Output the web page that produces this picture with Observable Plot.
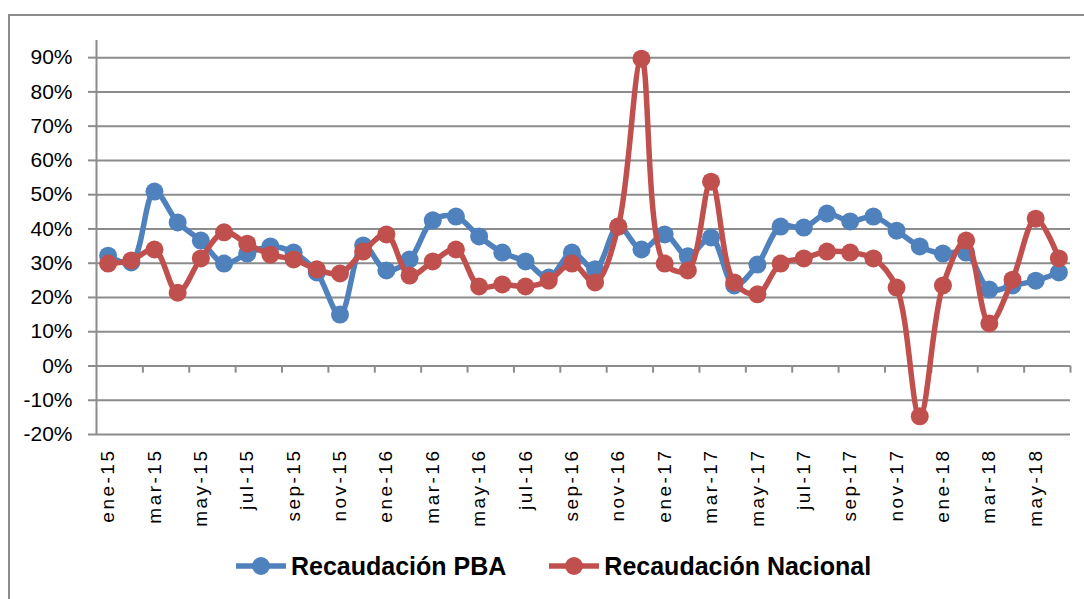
<!DOCTYPE html>
<html>
<head>
<meta charset="utf-8">
<script src="https://cdn.jsdelivr.net/npm/d3@7"></script>
<script src="https://cdn.jsdelivr.net/npm/@observablehq/plot@0.6"></script>
<style>
  html, body { margin: 0; padding: 0; background: white; }
  #wrap { position: relative; width: 1084px; height: 599px; overflow: hidden; font-family: "Liberation Sans", Arial, sans-serif; }
  #border { position: absolute; left: 8px; top: 14px; width: 1200px; height: 700px; border-top: 2px solid #8c8c8c; border-left: 2px solid #8c8c8c; pointer-events: none; }
  #legend { position: absolute; left: 0; top: 548px; height: 36px; display: flex; align-items: center; padding-left: 236px; font-weight: bold; font-size: 25px; color: #000; }
  .item { display: flex; align-items: center; }
  .item svg { margin-right: 5px; }
</style>
</head>
<body>
<div id="wrap">
  <div id="chart"></div>
  <div id="border"></div>
  <div id="legend"></div>
</div>
<script>
const months = [
  "ene-15","feb-15","mar-15","abr-15","may-15","jun-15","jul-15","ago-15","sep-15","oct-15","nov-15","dic-15",
  "ene-16","feb-16","mar-16","abr-16","may-16","jun-16","jul-16","ago-16","sep-16","oct-16","nov-16","dic-16",
  "ene-17","feb-17","mar-17","abr-17","may-17","jun-17","jul-17","ago-17","sep-17","oct-17","nov-17","dic-17",
  "ene-18","feb-18","mar-18","abr-18","may-18","jun-18"
];
const pba = [
  32.2, 30.2, 50.9, 41.9, 36.6, 29.9, 32.8, 34.9, 33.1, 27.3, 15.0, 35.2,
  27.9, 31.1, 42.5, 43.6, 37.8, 33.1, 30.5, 25.8, 33.1, 28.2, 40.7, 34.0,
  38.4, 32.0, 37.5, 23.5, 29.6, 40.7, 40.4, 44.5, 42.2, 43.6, 39.5, 34.9,
  32.8, 33.1, 22.3, 23.5, 24.9, 27.3
];
const nacional = [
  29.9, 30.8, 34.0, 21.4, 31.4, 39.0, 35.7, 32.5, 31.1, 28.2, 27.0, 33.4,
  38.4, 26.4, 30.5, 34.0, 23.2, 23.8, 23.2, 24.9, 29.9, 24.4, 40.7, 89.7,
  29.9, 27.9, 53.8, 24.4, 20.9, 29.9, 31.4, 33.4, 33.1, 31.4, 22.9, -14.7,
  23.5, 36.6, 12.4, 25.2, 43.0, 31.4
];
const seriesNames = ["Recaudación PBA", "Recaudación Nacional"];
const colors = ["#4F81BD", "#C0504D"];
const yTicks = [-20, -10, 0, 10, 20, 30, 40, 50, 60, 70, 80, 90];

const rowsPBA = months.map((m, i) => ({i, m, v: pba[i]}));
const rowsNac = months.map((m, i) => ({i, m, v: nacional[i]}));
const labelRows = rowsPBA.filter(d => d.i % 2 === 0);
const boundaries = months.map((m, i) => i).filter(i => i > 0 && i % 2 === 0).concat([months.length]).map(i => i - 0.5);

const grid = "#8c8c8c";

const plot = Plot.plot({
  width: 1084,
  height: 540,
  marginLeft: 96,
  marginRight: 14,
  marginTop: 40,
  marginBottom: 106,
  style: { fontFamily: "Liberation Sans, Arial, sans-serif", fontSize: "21px", color: "black", background: "transparent" },
  x: { domain: [-0.5, months.length - 0.5], axis: null },
  y: { domain: [-20, 95], axis: null },
  marks: [
    Plot.gridY(yTicks, { stroke: grid, strokeOpacity: 1, strokeWidth: 2 }),
    Plot.ruleX([-0.5], { y1: -20, y2: 95, stroke: grid, strokeWidth: 2 }),
    Plot.axisY(yTicks, { label: null, tickSize: 8, tickPadding: 16, tickFormat: d => d + "%", stroke: grid, color: "black", strokeWidth: 2, fontSize: 21 }),
    Plot.ruleX(boundaries, { y1: 0, y2: -2.1, stroke: grid, strokeWidth: 2 }),
    Plot.text(labelRows, { x: "i", frameAnchor: "bottom", text: "m", rotate: -90, textAnchor: "end", lineAnchor: "middle", dy: 14, fontSize: 19, fill: "black" }),
    Plot.line(rowsPBA, { x: "i", y: "v", stroke: colors[0], strokeWidth: 5.5, curve: "catmull-rom" }),
    Plot.dot(rowsPBA, { x: "i", y: "v", r: 9, fill: colors[0], stroke: "none" }),
    Plot.line(rowsNac, { x: "i", y: "v", stroke: colors[1], strokeWidth: 5.5, curve: "catmull-rom" }),
    Plot.dot(rowsNac, { x: "i", y: "v", r: 9, fill: colors[1], stroke: "none" })
  ]
});
// letter spacing for x labels
d3.select(plot).selectAll("text").filter(function() { const t = this.getAttribute("transform"); return t && t.includes("rotate(-90)"); }).style("letter-spacing", "2.5px");
document.getElementById("chart").appendChild(plot);

const legend = document.getElementById("legend");
seriesNames.forEach((name, k) => {
  const item = document.createElement("div");
  item.className = "item";
  if (k > 0) item.style.marginLeft = "43px";
  item.innerHTML = `<svg width="50" height="20"><line x1="0" y1="10" x2="50" y2="10" stroke="${colors[k]}" stroke-width="5.5"/><circle cx="25" cy="10" r="9" fill="${colors[k]}"/></svg><span>${name}</span>`;
  legend.appendChild(item);
});
</script>
</body>
</html>
